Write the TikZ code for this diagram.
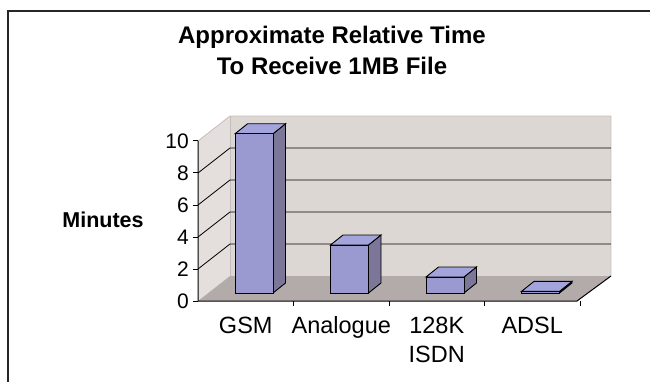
\documentclass[tikz,border=0pt]{standalone}
\usepackage{fontspec}
\setmainfont{Liberation Sans}
\usepackage{xcolor}
\definecolor{barblue}{RGB}{154,154,208}
\definecolor{barbluetop}{RGB}{164,164,220}
\definecolor{barblueside}{RGB}{124,119,152}
\definecolor{wallgray}{RGB}{221,215,212}
\definecolor{sidewallgray}{RGB}{228,223,220}
\definecolor{floorgray}{RGB}{178,171,169}
\definecolor{edgegray}{RGB}{196,190,187}

\begin{document}
\begin{tikzpicture}[x=1pt, y=-1pt, line join=miter,
        barface/.style={draw=black, line width=0.9pt},
        gridline/.style={black, line width=0.8pt},
        ticklabel/.style={anchor=east, inner sep=0pt, font=\fontsize{21}{21}\selectfont},
        catlabel/.style={anchor=base, inner sep=0pt, align=center, font=\fontsize{23.5}{29}\selectfont}]
        \useasboundingbox (0,0) rectangle (650,382);
        % Frame
        \draw[line width=2pt, black!85] (8,382) -- (8,11) -- (650,11);
        % Title (base anchor sits on the last line)
        \node[align=center, inner sep=0pt, anchor=base, font=\bfseries\fontsize{24}{31}\selectfont] (title) at (332,75) {Approximate Relative Time\\To Receive 1MB File};
        \node[inner sep=0pt, font=\bfseries\fontsize{21.5}{21.5}\selectfont] (minutes) at (103,220) {Minutes};
        % Walls and floor
        \fill[sidewallgray] (198,301) -- (198,141) -- (230,116) -- (230,276) -- cycle;
        \fill[wallgray] (230,116) rectangle (611,276);
        \fill[floorgray] (198,301) -- (577,301) -- (611,276) -- (230,276) -- cycle;
        \draw[edgegray, line width=0.8pt] (198,141) -- (230,116) -- (611,116) -- (611,276);
        \draw[edgegray, line width=0.8pt] (230,116) -- (230,276);
        % Gridlines
                \foreach \k in {1,...,4} {
                  \draw[gridline] (198,{301-32*\k}) -- (230,{276-32*\k}) -- (611,{276-32*\k});
                }
        % Axes and ticks
        \draw[black, line width=1pt] (198,141) -- (198,301) -- (577,301) -- (611,276);
                \foreach \k in {0,...,5} {
                  \pgfmathtruncatemacro\ytext{2*\k}
                  \draw[black, line width=1pt] (193,{301-32*\k}) -- (198,{301-32*\k});
                  \node[ticklabel] (ytick\k) at (189,{301-32*\k}) {\ytext};
                }
                \foreach \i in {1,...,4} {
                  \draw[black, line width=1pt] ({198+95.5*\i},301) -- ({198+95.5*\i},306);
                }
        % Bars
                \foreach \i/\v/\name/\yb in {0/9.95/GSM/333, 1/3/Analogue/333, 2/1/{128K\\ISDN}/362, 3/0.1/ADSL/333} {
                  \pgfmathsetmacro\xl{235+95.5*\i}
                  \pgfmathsetmacro\xr{\xl+38}
                  \pgfmathsetmacro\yt{293-16*\v}
                  \filldraw[barface, fill=barblueside] (\xr,293) -- ({\xr+12.5},283) -- ({\xr+12.5},{\yt-10}) -- (\xr,\yt) -- cycle;
                  \filldraw[barface, fill=barbluetop] (\xl,\yt) -- ({\xl+12.5},{\yt-10}) -- ({\xr+12.5},{\yt-10}) -- (\xr,\yt) -- cycle;
                  \filldraw[barface, fill=barblue] (\xl,293) rectangle (\xr,\yt);
                  \node[catlabel] (cat\i) at ({245.75+95.5*\i},\yb) {\name};
                }
\end{tikzpicture}
\end{document}
